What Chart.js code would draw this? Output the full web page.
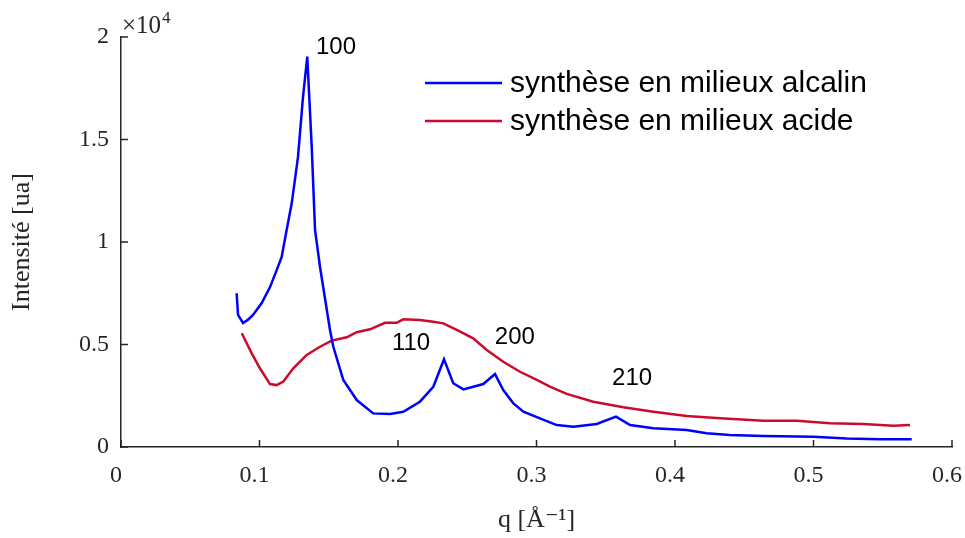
<!DOCTYPE html>
<html>
<head>
<meta charset="utf-8">
<script src="https://cdn.jsdelivr.net/npm/chart.js@4.4.0/dist/chart.umd.min.js"></script>
<style>
  html, body { margin: 0; padding: 0; background: #fff; }
</style>
</head>
<body>
<canvas id="myChart" width="965" height="538"></canvas>
<script>
// data (q in 1/A, intensity in a.u.)
var qAlcalin = [0.0835,0.0845,0.0881,0.0915,0.0953,0.1016,0.1076,0.1124,0.1160,0.1196,0.1233,0.1278,0.1314,0.1345,0.1377,0.1401,0.1437,0.1509,0.1533,0.1605,0.1702,0.1821,0.1942,0.2038,0.2158,0.2255,0.2332,0.2399,0.2472,0.2616,0.2700,0.2760,0.2833,0.2905,0.3025,0.3146,0.3266,0.3435,0.3574,0.3676,0.3844,0.4084,0.4228,0.4396,0.4637,0.4999,0.5240,0.5480,0.5709];
var iAlcalin = [7500,6440,6050,6200,6440,7020,7800,8630,9270,10590,11900,14150,17070,19040,14650,10590,8780,5710,4890,3270,2290,1640,1610,1720,2210,2940,4280,3110,2810,3070,3560,2780,2130,1720,1400,1070,990,1120,1480,1070,910,830,670,590,540,500,420,380,380];

var qAcide = [0.0872,0.0944,0.1003,0.1076,0.1124,0.1172,0.1244,0.1341,0.1437,0.1521,0.1630,0.1702,0.1798,0.1906,0.1990,0.2038,0.2158,0.2255,0.2327,0.2424,0.2543,0.2641,0.2760,0.2881,0.3002,0.3097,0.3218,0.3410,0.3627,0.3844,0.4084,0.4325,0.4637,0.4879,0.5119,0.5360,0.5577,0.5697];
var iAcide = [5550,4570,3840,3070,3020,3190,3840,4490,4890,5190,5350,5600,5740,6060,6060,6230,6200,6110,6030,5710,5300,4730,4160,3670,3270,2940,2590,2210,1940,1720,1510,1400,1280,1280,1160,1120,1040,1070];

var seriesNames = ['synthèse en milieux alcalin', 'synthèse en milieux acide'];
var seriesColors = ['#0000ff', '#cc0a2c'];

// peak labels (hkl) with their position in data units
var peakLabels = ['100', '110', '200', '210'];
var peakQ = [0.1408, 0.2094, 0.2844, 0.3690];
var peakI = [19500, 5070, 5370, 3370];
var peakAlign = ['left', 'center', 'center', 'center'];

function toPoints(xs, ys) {
  var pts = [];
  for (var i = 0; i < xs.length; i++) {
    pts.push({x: xs[i], y: ys[i]});
  }
  return pts;
}

var axisColor = '#262626';
var serif = '"Liberation Serif", "DejaVu Serif", serif';
var sans = '"Liberation Sans", Arial, sans-serif';

var extras = {
  id: 'extras',
  afterDraw: function(chart) {
    var ctx = chart.ctx;
    var xs = chart.scales.x, ys = chart.scales.y;
    var area = chart.chartArea;
    ctx.save();

    // inner ticks
    ctx.strokeStyle = axisColor;
    ctx.lineWidth = 1.5;
    ctx.beginPath();
    xs.ticks.forEach(function(t) {
      var px = xs.getPixelForValue(t.value);
      ctx.moveTo(px, area.bottom);
      ctx.lineTo(px, area.bottom - 7);
    });
    ys.ticks.forEach(function(t) {
      var py = ys.getPixelForValue(t.value);
      ctx.moveTo(area.left, py);
      ctx.lineTo(area.left + 7, py);
    });
    ctx.stroke();

    // exponent
    ctx.fillStyle = '#262626';
    ctx.textBaseline = 'alphabetic';
    ctx.textAlign = 'left';
    ctx.font = '25px ' + serif;
    ctx.fillText('×10', area.left + 1, area.top - 4);
    var w = ctx.measureText('×10').width;
    ctx.font = '17px ' + serif;
    ctx.fillText('4', area.left + 1 + w + 1, area.top - 14);

    // peak labels
    ctx.fillStyle = '#000';
    ctx.font = '24px ' + sans;
    ctx.textBaseline = 'middle';
    for (var i = 0; i < peakLabels.length; i++) {
      ctx.textAlign = peakAlign[i];
      ctx.fillText(peakLabels[i], xs.getPixelForValue(peakQ[i]), ys.getPixelForValue(peakI[i]));
    }

    // legend
    ctx.font = '30px ' + sans;
    ctx.textAlign = 'left';
    var ly = [83, 121];
    for (var j = 0; j < seriesNames.length; j++) {
      ctx.strokeStyle = seriesColors[j];
      ctx.lineWidth = 2.5;
      ctx.beginPath();
      ctx.moveTo(425, ly[j]);
      ctx.lineTo(502, ly[j]);
      ctx.stroke();
      ctx.fillStyle = '#000';
      ctx.fillText(seriesNames[j], 510, ly[j] + 1);
    }
    ctx.restore();
  }
};

var myChart = document.getElementById('myChart').getContext('2d');
var chart = new Chart(myChart, {
  type: 'line',
  data: {
    datasets: [{
      label: seriesNames[0],
      data: toPoints(qAlcalin, iAlcalin),
      borderColor: seriesColors[0],
      borderWidth: 2.5,
      pointRadius: 0,
      tension: 0,
      fill: false
    }, {
      label: seriesNames[1],
      data: toPoints(qAcide, iAcide),
      borderColor: seriesColors[1],
      borderWidth: 2.5,
      pointRadius: 0,
      tension: 0,
      fill: false
    }]
  },
  options: {
    responsive: false,
    animation: false,
    layout: { padding: { top: 37, right: 13, left: 0, bottom: 0 } },
    plugins: {
      legend: { display: false },
      tooltip: { enabled: false }
    },
    scales: {
      x: {
        type: 'linear',
        min: 0,
        max: 0.6,
        ticks: {
          stepSize: 0.1,
          color: '#262626',
          font: { family: serif, size: 24 },
          padding: 14,
          labelOffset: -5,
          maxRotation: 0,
          callback: function(v) { return v === 0 ? '0' : String(Math.round(v * 10) / 10); }
        },
        grid: { drawOnChartArea: false, drawTicks: false },
        border: { display: true, color: axisColor, width: 1.5 },
        title: {
          display: true,
          text: 'q [Å⁻¹]',
          color: '#262626',
          font: { family: serif, size: 26 },
          padding: { top: 0, bottom: 2 }
        },
        afterFit: function(scale) {
          scale.height = 91;
          scale.paddingRight = 0;
          scale.paddingLeft = 0;
        }
      },
      y: {
        min: 0,
        max: 20000,
        ticks: {
          stepSize: 5000,
          color: '#262626',
          font: { family: serif, size: 24 },
          padding: 12,
          callback: function(v) { return String(v / 10000); }
        },
        grid: { drawOnChartArea: false, drawTicks: false },
        border: { display: true, color: axisColor, width: 1.5 },
        title: {
          display: true,
          text: 'Intensité [ua]',
          color: '#262626',
          font: { family: serif, size: 26 },
          padding: { top: 7, bottom: 0 }
        },
        afterFit: function(scale) { scale.width = 121; }
      }
    }
  },
  plugins: [extras]
});
</script>
</body>
</html>
